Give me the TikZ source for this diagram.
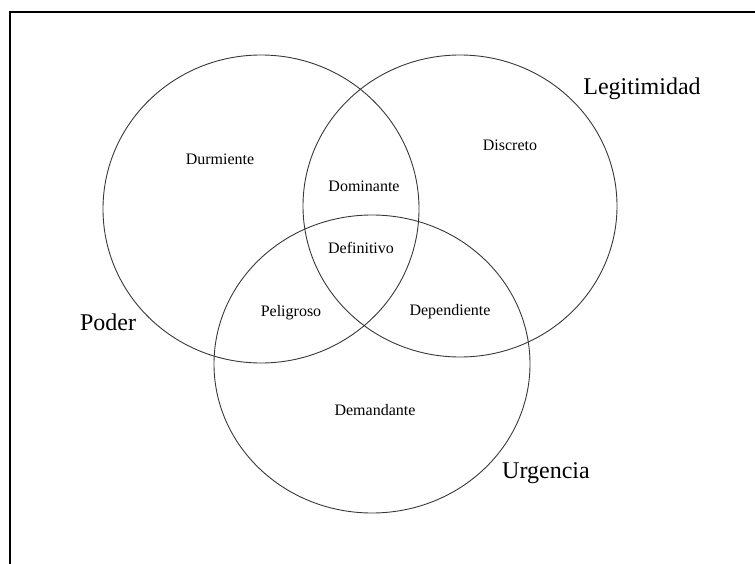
\documentclass[tikz,border=0pt]{standalone}
\usepackage{fontspec}
\setmainfont{Liberation Serif}
\usetikzlibrary{shapes.geometric}
\begin{document}
\begin{tikzpicture}[x=1pt,y=-1pt,
  setring/.style={ellipse, draw=black!78, line width=0.9pt, inner sep=0pt},
  setname/.style={font=\fontsize{24}{28}\selectfont, inner sep=0pt, anchor=base},
  zone/.style={font=\fontsize{16}{19}\selectfont, inner sep=0pt, anchor=base}]
\useasboundingbox (0,0) rectangle (755,564);
% open frame: top and left edges only
\draw[line width=2pt, line cap=rect] (755,12.5) -- (10,12.5) -- (10,564);
% the three sets
\node[setring, minimum width=316pt, minimum height=308pt] (poder) at (261,209) {};
\node[setring, minimum width=314pt, minimum height=302pt] (legit) at (460,206) {};
\node[setring, minimum width=316pt, minimum height=298pt] (urg) at (372,364) {};
% set names
\node[setname] (tpoder) at (108,330) {Poder};
\node[setname] (tlegit) at (642,95) {Legitimidad};
\node[setname] (turg) at (546,478) {Urgencia};
% regions
\node[zone] (durm) at (220,165) {Durmiente};
\node[zone] (domi) at (364,192) {Dominante};
\node[zone] (disc) at (510,151) {Discreto};
\node[zone] (defi) at (361,254) {Definitivo};
\node[zone] (peli) at (291,316) {Peligroso};
\node[zone] (depe) at (450,315) {Dependiente};
\node[zone] (dema) at (375,415) {Demandante};
\end{tikzpicture}
\end{document}
